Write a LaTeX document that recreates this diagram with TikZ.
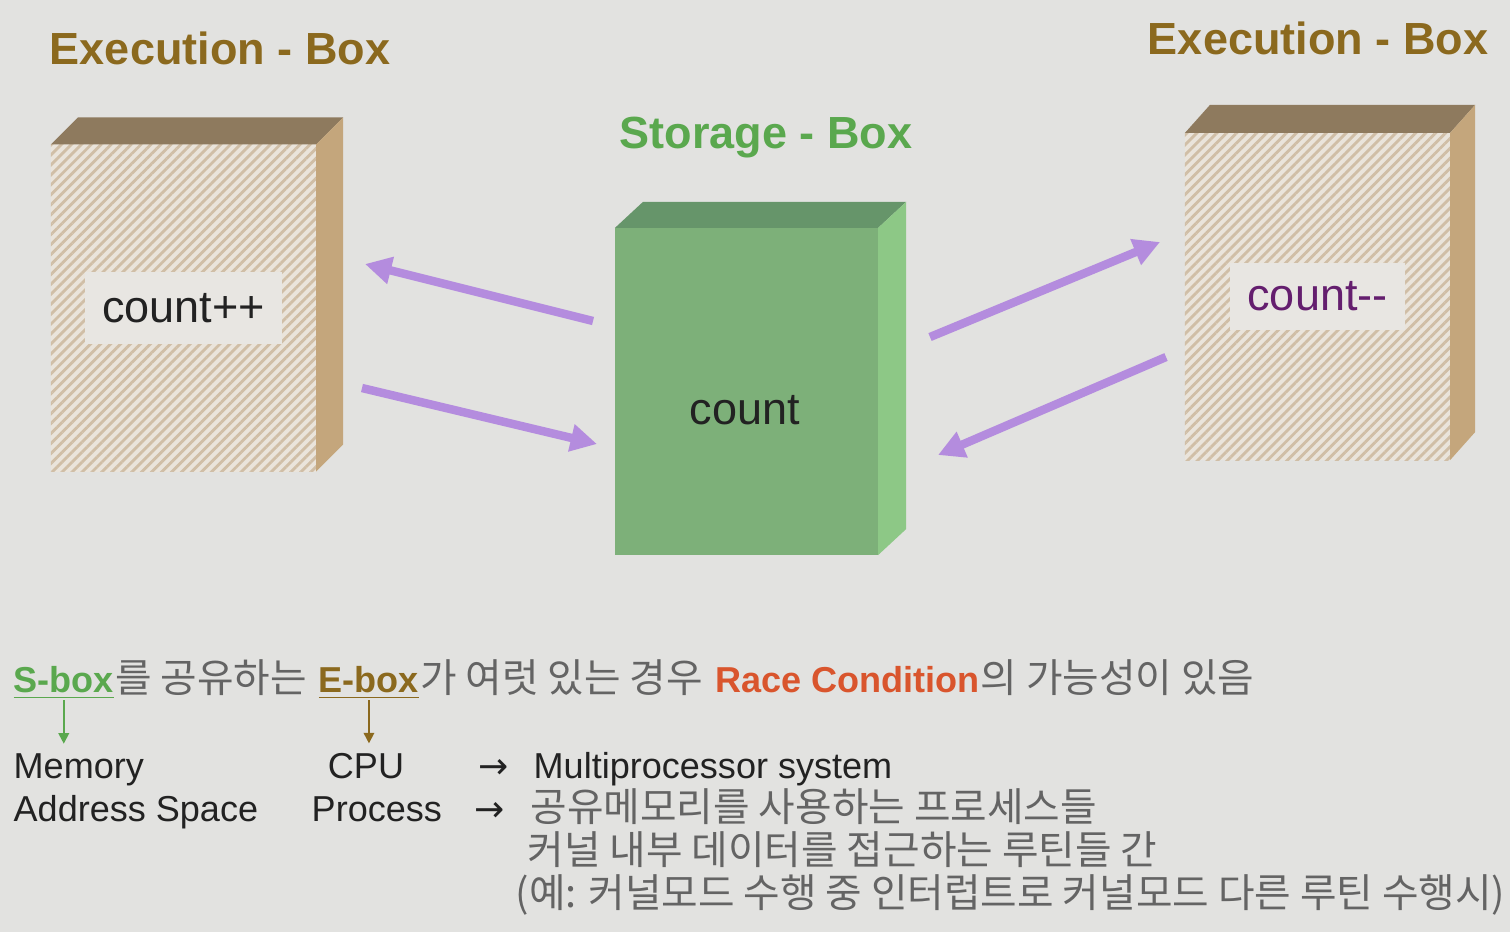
\documentclass[tikz,border=0pt]{standalone}
\usepackage{fontspec}
\setmainfont{Liberation Sans}
\newfontfamily\krfont{Noto Sans CJK KR}
\newfontfamily\arrfont{DejaVu Sans}
\usepackage{tikz}
\usetikzlibrary{arrows.meta, positioning, patterns.meta}

\definecolor{bgc}{RGB}{226,226,224}
\definecolor{ebfront}{RGB}{234,228,219}
\definecolor{ebline}{RGB}{208,190,166}
\definecolor{ebtopc}{RGB}{142,122,94}
\definecolor{ebsidec}{RGB}{196,166,124}
\definecolor{sbfront}{RGB}{125,176,121}
\definecolor{sbtopc}{RGB}{102,149,106}
\definecolor{sbsidec}{RGB}{141,200,134}
\definecolor{lblc}{RGB}{232,230,226}
\definecolor{etitle}{RGB}{139,105,30}
\definecolor{stitle}{RGB}{90,168,78}
\definecolor{flowc}{RGB}{180,140,222}
\definecolor{racec}{RGB}{217,85,45}
\definecolor{krc}{RGB}{100,100,100}
\definecolor{txtc}{RGB}{34,34,34}
\definecolor{decc}{RGB}{100,30,110}

\newcommand{\bodysize}{\fontsize{10.25pt}{12pt}\selectfont}
\newcommand{\krsize}{\fontsize{11.3pt}{13pt}\selectfont}
\newcommand{\bigsize}{\fontsize{12.8pt}{15pt}\selectfont}

\begin{document}
\begin{tikzpicture}[x=0.01cm,y=-0.01cm,
        ebox/.style={draw=none,outer sep=0pt,minimum width=2.65cm,minimum height=3.27cm,
            preaction={fill=ebfront},pattern={Lines[angle=45,distance=2pt,line width=0.8pt]},pattern color=ebline},
        sbox/.style={fill=sbfront,outer sep=0pt,minimum width=2.63cm,minimum height=3.27cm},
        lbl/.style={fill=lblc,font=\bigsize,text=txtc},
        ttl/.style={inner sep=0pt,font=\bigsize\bfseries},
        flow/.style={-{Triangle[length=7.5pt,width=7.5pt]},line width=2.4pt,draw=flowc},
        txt/.style={inner sep=0pt,font=\bodysize,text=txtc},
        kr/.style={inner sep=0pt,font=\krsize\krfont,text=krc},
        pick/.style={-{Triangle[length=3pt,width=3pt]},line width=0.5pt,shorten >=2.5pt}]

    \fill[bgc] (0,0) rectangle (1510,932);
    \useasboundingbox (0,0) rectangle (1510,932);

    \node[ttl,text=etitle,anchor=base] (ttl_l) at (220,64) {Execution - Box};
    \node[ttl,text=stitle,anchor=base] (ttl_s) at (766,148) {Storage - Box};
    \node[ttl,text=etitle,anchor=base] (ttl_r) at (1318,54) {Execution - Box};

    \node[ebox] (ebl) at (183.5,308) {};
    \fill[ebtopc] (ebl.north west) -- ++(27,-27) -- ([shift={(27,-27)}]ebl.north east) -- (ebl.north east) -- cycle;
    \fill[ebsidec] (ebl.north east) -- ++(27,-27) -- ([shift={(27,-27)}]ebl.south east) -- (ebl.south east) -- cycle;
    \node[lbl,minimum width=1.97cm,minimum height=0.72cm] (inc) at (ebl.center) {count++};

    \node[sbox] (sb) at (746.5,391.5) {};
    \fill[sbtopc] (sb.north west) -- ++(28,-26) -- ([shift={(28,-26)}]sb.north east) -- (sb.north east) -- cycle;
    \fill[sbsidec] (sb.north east) -- ++(28,-26) -- ([shift={(28,-26)}]sb.south east) -- (sb.south east) -- cycle;
    \node[font=\bigsize,text=txtc] (cnt) at (745,410) {count};

    \node[ebox] (ebr) at (1317.5,296.5) {};
    \fill[ebtopc] (ebr.north west) -- ++(25,-28) -- ([shift={(25,-28)}]ebr.north east) -- (ebr.north east) -- cycle;
    \fill[ebsidec] (ebr.north east) -- ++(25,-28) -- ([shift={(25,-28)}]ebr.south east) -- (ebr.south east) -- cycle;
    \node[lbl,text=decc,minimum width=1.75cm,minimum height=0.67cm] (dec) at (ebr.center) {count-{}-};

    \coordinate (l1s) at (593,321);
    \coordinate (l1e) at (365,264);
    \coordinate (l2s) at (362,388);
    \coordinate (l2e) at (597,444);
    \coordinate (r1s) at (930,337);
    \coordinate (r1e) at (1160,242);
    \coordinate (r2s) at (1166,357);
    \coordinate (r2e) at (938,455);
    \draw[flow] (l1s) -- (l1e);
    \draw[flow] (l2s) -- (l2e);
    \draw[flow] (r1s) -- (r1e);
    \draw[flow] (r2s) -- (r2e);

    \node[txt,font=\bodysize\bfseries,text=stitle,anchor=base west] (sbx) at (13,692) {\underline{S-box}};
    \node[kr,base right=0pt of sbx] (l1a) {를 공유하는};
    \node[txt,font=\bodysize\bfseries,text=etitle,base right=0.3em of l1a] (ebx) {\underline{E-box}};
    \node[kr,base right=0pt of ebx] (l1b) {가 여럿 있는 경우};
    \node[txt,font=\bodysize\bfseries,text=racec,base right=0.3em of l1b] (race) {Race Condition};
    \node[kr,base right=0pt of race] (l1c) {의 가능성이 있음};

    \node[txt,anchor=base west] (mem) at (13,778) {Memory};
    \node[txt,anchor=base west] (addr) at (13,821) {Address Space};
    \node[txt,anchor=base] (cpu) at (366,778) {CPU};
    \node[txt,anchor=base west] (proc) at (311,821) {Process};
    \node[txt,font=\bodysize\arrfont,anchor=base west] (ar1) at (478,778) {→};
    \node[txt,anchor=base west] (multi) at (533,778) {Multiprocessor system};
    \node[txt,font=\bodysize\arrfont,anchor=base west] (ar2) at (474,821) {→};
    \node[kr,anchor=base west] (shm) at (530,821) {공유메모리를 사용하는 프로세스들};
    \node[kr,anchor=base west] (krn) at (527,864) {커널 내부 데이터를 접근하는 루틴들 간};
    \node[kr,anchor=base west] (intr) at (515,907) {(예: 커널모드 수행 중 인터럽트로 커널모드 다른 루틴 수행시)};

    \draw[pick,draw=stitle] (sbx.south) -- (sbx.south |- mem.north);
    \draw[pick,draw=etitle] (ebx.south) -- (ebx.south |- cpu.north);
\end{tikzpicture}
\end{document}
